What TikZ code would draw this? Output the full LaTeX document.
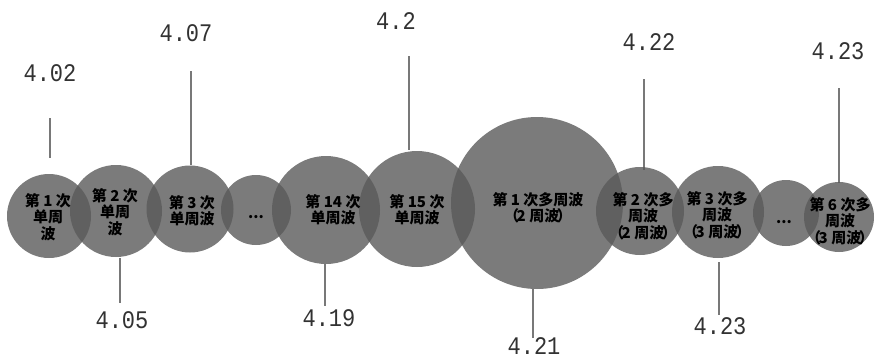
\documentclass[tikz,border=0pt]{standalone}
\usepackage{fontspec}
\newfontfamily\cjk{Noto Sans CJK SC}
\newfontfamily\numfont{Liberation Mono}
\definecolor{bub}{RGB}{90,90,90}
\definecolor{lin}{RGB}{120,120,120}
\definecolor{num}{RGB}{50,50,50}
\tikzset{
  bubble/.style={circle,draw=none,fill=bub,fill opacity=0.8,inner sep=0pt,minimum size=#1},
  txt/.style={align=center,inner sep=0pt,font=\cjk\bfseries\fontsize{15}{16.5}\selectfont,text=black},
  val/.style={inner sep=0pt,text=num,font=\numfont\fontsize{22}{22}\selectfont},
  lead/.style={draw=lin,line width=1.4pt}
}
\newcommand{\vnum}[1]{\scalebox{1}[1.15]{#1}}
\newcommand{\pz}[1]{（\kern-2.5pt#1\kern-2.5pt）}
\begin{document}
\begin{tikzpicture}[x=1pt,y=-1pt]
\useasboundingbox[fill=white] (0,0) rectangle (875,359);
% leader end points
\coordinate (a1) at (50,118);  \coordinate (b1) at (50,158);
\coordinate (a3) at (191,71);  \coordinate (b3) at (191,165);
\coordinate (a6) at (409,56);  \coordinate (b6) at (409,150);
\coordinate (a8) at (644,79);  \coordinate (b8) at (644,170);
\coordinate (a11) at (839,88); \coordinate (b11) at (839,183);
\coordinate (a2) at (120,258); \coordinate (b2) at (120,303);
\coordinate (a5) at (325,264); \coordinate (b5) at (325,306);
\coordinate (a7) at (533,289); \coordinate (b7) at (533,338);
\coordinate (a9) at (719,262); \coordinate (b9) at (719,315);
\foreach \p in {1,3,6,8,11,2,5,7,9}{\draw[lead] (a\p) -- (b\p);}
% bubbles
\node[bubble=84pt]  (c1)  at (49,216) {};
\node[bubble=92pt]  (c2)  at (116,211) {};
\node[bubble=87pt]  (c3)  at (190,209) {};
\node[bubble=70pt]  (c4)  at (256,210) {};
\node[bubble=108pt] (c5)  at (326,210) {};
\node[bubble=116pt] (c6)  at (417,209) {};
\node[bubble=172pt] (c7)  at (537,203) {};
\node[bubble=88pt]  (c8)  at (640,211) {};
\node[bubble=92pt]  (c9)  at (718,212) {};
\node[bubble=66pt]  (c10) at (786,213) {};
\node[bubble=70pt]  (c11) at (839,217) {};
% texts
\node[txt] (t1)  at (48,217)  {第 1 次\\单周\\波};
\node[txt] (t2)  at (115,212) {第 2 次\\单周\\波};
\node[txt] (t3)  at (192,211) {第 3 次\\单周波};
\node[txt] (t4)  at (256,217) {...};
\node[txt] (t5)  at (333,210) {第 14 次\\单周波};
\node[txt] (t6)  at (417,210) {第 15 次\\单周波};
\node[txt] (t7)  at (538,208) {第 1 次多周波\\\pz{2 周波}};
\node[txt] (t8)  at (643,216) {第 2 次多\\周波\\\pz{2 周波}};
\node[txt] (t9)  at (717,215) {第 3 次多\\周波\\\pz{3 周波}};
\node[txt] (t10) at (784,222) {...};
\node[txt] (t11) at (840,221) {第 6 次多\\周波\\\pz{3 周波}};
% values
\node[val] (v1)  at (50,73)   {\vnum{4.02}};
\node[val] (v3)  at (186,33)  {\vnum{4.07}};
\node[val] (v6)  at (396,21)  {\vnum{4.2}};
\node[val] (v8)  at (649,42)  {\vnum{4.22}};
\node[val] (v11) at (838,51)  {\vnum{4.23}};
\node[val] (v2)  at (122,320) {\vnum{4.05}};
\node[val] (v5)  at (329,318) {\vnum{4.19}};
\node[val] (v7)  at (534,346) {\vnum{4.21}};
\node[val] (v9)  at (720,326) {\vnum{4.23}};
\end{tikzpicture}
\end{document}
